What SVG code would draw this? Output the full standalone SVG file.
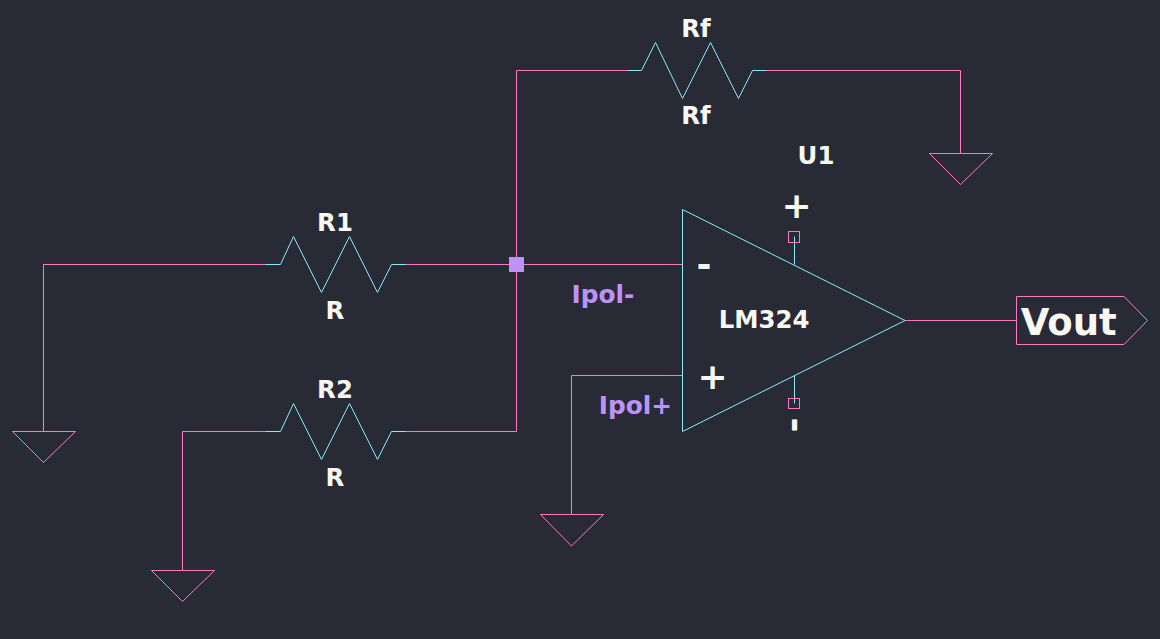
<svg xmlns="http://www.w3.org/2000/svg" width="1160" height="639" viewBox="0 0 1160 639">
<style>
.p{fill:none;stroke:#ff79c6;stroke-width:1}
.c{fill:none;stroke:#8be9fd;stroke-width:1}
text{font-family:"DejaVu Sans",sans-serif;font-weight:700;fill:#f8f8f2;text-anchor:middle}
.t{font-size:24.4px}
.v{font-size:37px}
.g{font-size:24.8px;fill:#bd93f9}
.s{font-size:36px}
</style>
<rect width="1160" height="639" fill="#282a36"/>
<g id="connectors">
<path class="p" d="M43.5 431.5V264.5H266"/>
<path class="p" d="M182.5 570.5V431.5H266"/>
<path class="p" d="M405 264.5H682.5"/>
<path class="p" d="M405 431.5H516.5V70.5H628"/>
<path class="p" d="M766 70.5H960.5V153.5"/>
<path class="p" d="M682.5 375.5H571.5V514.5"/>
<path class="p" d="M905 320.5H1016.5"/>
</g>
<g id="R1"><path class="c" d="M266 264.5H280.5L293.5 236.5L321.5 292.5L349.5 236.5L377.5 292.5L391.5 264.5H405"/><text class="t" x="335" y="231">R1</text><text class="t" x="335" y="319">R</text></g>
<g id="R2"><path class="c" d="M266 431.5H280.5L293.5 403.5L321.5 459.5L349.5 403.5L377.5 459.5L391.5 431.5H405"/><text class="t" x="335" y="398">R2</text><text class="t" x="335" y="486">R</text></g>
<g id="Rf"><path class="c" d="M628 70.5H641.5L655.5 42.5L682.5 98.5L710.5 42.5L738.5 98.5L752.5 70.5H766"/><text class="t" x="696" y="37">Rf</text><text class="t" x="696" y="124">Rf</text></g>
<g id="J1"><rect x="509" y="257" width="15" height="15" fill="#bd93f9"/></g>
<g id="U1">
<path class="c" d="M682.5 209.5V431.5L905 320.5Z"/>
<path class="c" d="M794.5 236.5V264.5M794.5 375.5V403.5"/>
<rect class="p" x="788.5" y="231.5" width="11" height="11"/>
<rect class="p" x="788.5" y="398.5" width="11" height="10"/>
<text class="t" x="816" y="164">U1</text>
<text class="t" x="764" y="328">LM324</text>
<text class="s" x="796.5" y="217.5">+</text>
<text class="s" x="704" y="277">-</text>
<text class="s" x="712.5" y="389">+</text>
<text class="s" transform="translate(796 425) rotate(90)" x="0" y="12">-</text>
</g>
<g id="Ipol-"><text class="g" x="603" y="302.5">Ipol-</text></g>
<g id="Ipol+"><text class="g" x="635.5" y="413.5">Ipol+</text></g>
<g id="GND1"><path class="p" d="M12.5 431.5H75.5L43.5 462.5Z"/></g>
<g id="GND2"><path class="p" d="M151.5 570.5H214.5L182.5 601.5Z"/></g>
<g id="GND3"><path class="p" d="M540.5 514.5H603.5L571.5 546Z"/></g>
<g id="GND4"><path class="p" d="M929.5 153.5H992.5L960.5 184.5Z"/></g>
<g id="Vout"><path class="p" d="M1016.5 296.5H1124L1147.5 320.5L1124 344.5H1016.5Z"/><text class="v" x="1068.7" y="335">Vout</text></g>
</svg>
